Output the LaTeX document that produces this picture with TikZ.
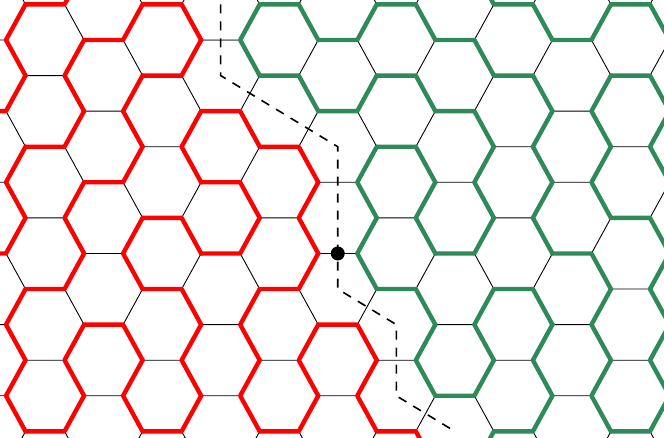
\documentclass[tikz,border=0pt]{standalone}
\usepackage{xcolor}
\usepackage{tikz}
\usetikzlibrary{
  calc
}
\definecolor{lpRed}{HTML}{FF0000}
\definecolor{lpGreen}{HTML}{2E8B57}
\tikzset{
  latedge/.style={black, line width=0.9pt},
  loopedge/.style={line width=4.4pt, line cap=round, line join=round},
  seam/.style={black, line width=1.6pt, dash pattern=on 9pt off 8pt},
  marker/.style={circle, fill=black, inner sep=0pt, minimum size=14pt}
}

\begin{document}
\begin{tikzpicture}[x=1pt, y=-1pt]
  \useasboundingbox (0,0) rectangle (664,438);
  \clip (0,0) rectangle (664,438);

  % thin honeycomb: three edges out of every left corner
  \foreach \k in {0,...,12} {
    \foreach \m in {-2,...,14} {
      \pgfmathtruncatemacro\parity{mod(\k+\m+3,2)}
      \ifnum\parity=0
        \pgfmathsetmacro\px{6+58.545*\k}
        \pgfmathsetmacro\py{4.4+35.58*\m}
        \draw[latedge] (\px-39.03,\py) -- (\px,\py) -- (\px+19.515,\py-35.58)
                       (\px,\py) -- (\px+19.515,\py+35.58);
      \fi
    }
  }
  % the first crossed edge is grey
  \draw[latedge, draw=gray] ({6+58.545*4-39.03},{4.4+35.58}) -- ({6+58.545*4},{4.4+35.58});

  % loops: column / row / thin edge (W, N or S) / colour
  \foreach \k/\m/\gap/\c in {
    0/-1/S/Red, 0/1/W/Red, 0/3/S/Red, 0/5/W/Red, 0/7/S/Red, 0/9/W/Red, 0/11/W/Red, 0/13/N/Red,
    1/0/S/Red, 1/2/W/Red, 1/4/S/Red, 1/6/W/Red, 1/8/S/Red, 1/10/W/Red, 1/12/S/Red,
    2/-1/S/Red, 2/1/S/Red, 2/3/W/Red, 2/5/S/Red, 2/7/W/Red, 2/9/N/Red, 2/11/W/Red, 2/13/N/Red,
    3/0/N/Red, 3/2/S/Red, 3/4/W/Red, 3/6/N/Red, 3/8/N/Red, 3/10/W/Red, 3/12/S/Red,
    4/-1/S/Green, 4/1/W/Green, 4/3/N/Red, 4/5/N/Red, 4/7/S/Red, 4/9/W/Red, 4/11/W/Red, 4/13/N/Red,
    5/0/N/Green, 5/2/N/Green, 5/4/N/Red, 5/6/W/Red, 5/8/S/Red, 5/10/W/Red, 5/12/S/Red,
    6/-1/S/Green, 6/1/S/Green, 6/3/S/Green, 6/5/W/Green, 6/7/W/Green, 6/9/N/Red, 6/11/W/Red, 6/13/N/Red,
    7/0/N/Green, 7/2/N/Green, 7/4/N/Green, 7/6/W/Green, 7/8/N/Green, 7/10/W/Green, 7/12/N/Red,
    8/-1/N/Green, 8/1/N/Green, 8/3/N/Green, 8/5/W/Green, 8/7/S/Green, 8/9/W/Green, 8/11/S/Green, 8/13/S/Green,
    9/0/N/Green, 9/2/N/Green, 9/4/W/Green, 9/6/W/Green, 9/8/N/Green, 9/10/W/Green, 9/12/S/Green,
    10/-1/S/Green, 10/1/S/Green, 10/3/W/Green, 10/5/W/Green, 10/7/N/Green, 10/9/W/Green, 10/11/W/Green, 10/13/N/Green,
    11/0/N/Green, 11/2/N/Green, 11/4/W/Green, 11/6/N/Green, 11/8/W/Green, 11/10/W/Green, 11/12/S/Green} {
    \pgfmathsetmacro\px{6+58.545*\k}
    \pgfmathsetmacro\py{4.4+35.58*\m}
    \coordinate (cv) at (\px,\py);
    \coordinate (cw) at (\px-39.03,\py);
    \coordinate (cn) at (\px+19.515,\py-35.58);
    \coordinate (cs) at (\px+19.515,\py+35.58);
    \if\gap W \draw[loopedge, draw=lp\c] (cn) -- (cv) -- (cs); \fi
    \if\gap N \draw[loopedge, draw=lp\c] (cw) -- (cv) -- (cs); \fi
    \if\gap S \draw[loopedge, draw=lp\c] (cw) -- (cv) -- (cn); \fi
  }

  % seam through cell centres
  \foreach \n/\k/\m in {1/3/0, 2/3/2, 3/4/3, 4/5/4, 5/5/6, 6/5/8, 7/6/9, 8/6/11, 9/7/12}
    \coordinate (s\n) at ({45.03+58.545*\k},{4.4+35.58*\m});
  \draw[seam] (s1) -- (s2) -- (s3) -- (s4) -- (s5) -- (s6) -- (s7) -- (s8) -- (s9);
  \node[marker] (dot) at ($(s5)!0.5!(s6)$) {};
\end{tikzpicture}
\end{document}
